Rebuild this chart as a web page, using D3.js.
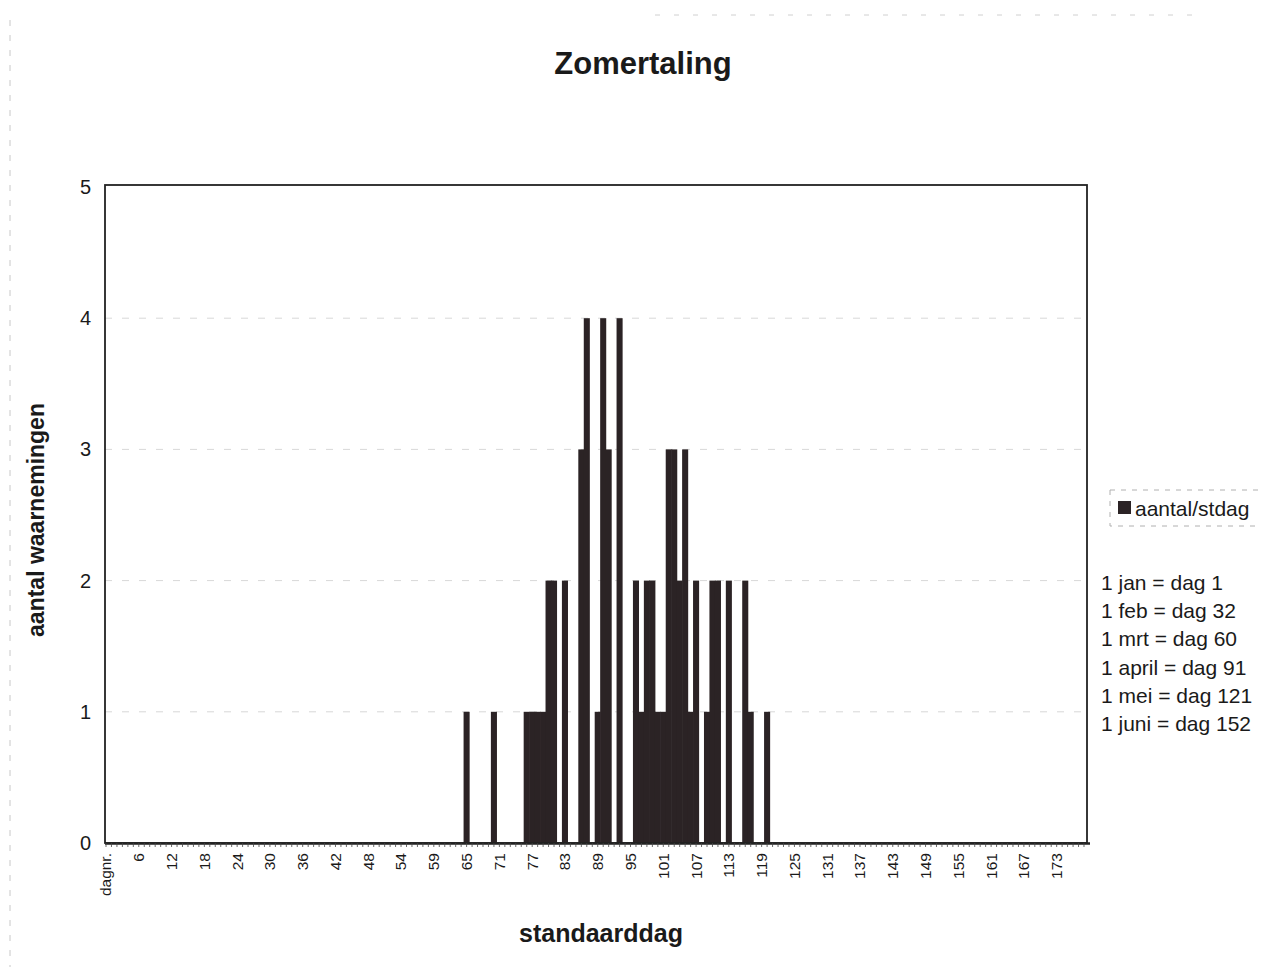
<!DOCTYPE html>
<html>
<head>
<meta charset="utf-8">
<script src="https://cdn.jsdelivr.net/npm/d3@7"></script>
<style>
    body { margin: 0; background: #fff; }
    text { font-family: "Liberation Sans", Arial, sans-serif; fill: #1a1a1a; }
</style>
</head>
<body>
<div id="chart"></div>
<script>
// categorieen op de x-as: "dagnr." gevolgd door de standaarddagen
const categorieen = ["dagnr."].concat(d3.range(1, 59), [""], d3.range(59, 179));

// waarnemingen per standaarddag (alleen dagen > 0)
const dagen   = [65, 70, 76, 77, 78, 79, 80, 81, 83, 86, 87, 89, 90, 91, 93, 96, 97, 98, 99, 100,
                 101, 102, 103, 104, 105, 106, 107, 109, 110, 111, 113, 116, 117, 120];
const aantal  = [1, 1, 1, 1, 1, 1, 2, 2, 2, 3, 4, 1, 4, 3, 4, 2, 1, 2, 2, 1,
                 1, 3, 3, 2, 3, 1, 2, 1, 2, 2, 2, 2, 1, 1];

const yTicks = [0, 1, 2, 3, 4, 5];

const maanden = ["1 jan = dag 1", "1 feb = dag 32", "1 mrt = dag 60",
                 "1 april = dag 91", "1 mei = dag 121", "1 juni = dag 152"];

const width = 1261, height = 967;
const plot = {left: 105, right: 1087, top: 185, bottom: 843};

let svg = d3.select("#chart").append("svg")
    .attr("width", width)
    .attr("height", height);

let x = d3.scaleBand()
    .domain(categorieen)
    .range([plot.left - 2, plot.right])
    .paddingInner(0)
    .paddingOuter(0.05);

let y = d3.scaleLinear()
    .domain([0, 5])
    .range([plot.bottom, plot.top + 2]);

// vage rand van het grafiekgebied (scan)
svg.append("line")
    .attr("x1", 10).attr("x2", 10).attr("y1", 20).attr("y2", height)
    .attr("stroke", "#c8c8c8").attr("stroke-dasharray", "6,9").attr("stroke-width", 1);
svg.append("line")
    .attr("x1", 655).attr("x2", 1195).attr("y1", 15).attr("y2", 15)
    .attr("stroke", "#d0d0d0").attr("stroke-dasharray", "5,14").attr("stroke-width", 1);

// rasterlijnen
svg.append("g")
    .selectAll("line")
    .data(yTicks.filter(d => d > 0 && d < 5))
    .enter().append("line")
    .attr("x1", plot.left).attr("x2", plot.right)
    .attr("y1", d => y(d)).attr("y2", d => y(d))
    .attr("stroke", "#d8d8d8")
    .attr("stroke-width", 1)
    .attr("stroke-dasharray", "7,10");

// staven (iets overlappend zodat aangrenzende staven een blok vormen)
let data = dagen.map((d, i) => ({dag: d, n: aantal[i]}));

svg.append("g")
    .selectAll("rect")
    .data(data)
    .enter().append("rect")
    .attr("x", d => x(d.dag) - 0.3)
    .attr("y", d => y(d.n))
    .attr("width", x.bandwidth() + 0.6)
    .attr("height", d => y(0) - y(d.n))
    .attr("fill", "#2b2325");

// kader
svg.append("rect")
    .attr("x", plot.left).attr("y", plot.top)
    .attr("width", plot.right - plot.left).attr("height", plot.bottom - plot.top)
    .attr("fill", "none")
    .attr("stroke", "#222")
    .attr("stroke-width", 1.8);

// x-as
let xAxis = d3.axisBottom(x)
    .tickSize(4)
    .tickFormat((d, i) => i % 6 == 0 ? d : "");

let gx = svg.append("g")
    .attr("transform", `translate(0,${plot.bottom})`)
    .call(xAxis);

gx.select(".domain")
    .attr("d", `M${plot.left},0.5H${plot.right + 3}`)
    .attr("stroke", "#222")
    .attr("stroke-width", 2.4);
gx.selectAll(".tick line").attr("stroke", "#444").attr("stroke-width", 0.8);
gx.selectAll(".tick text")
    .attr("transform", "rotate(-90)")
    .attr("x", -10)
    .attr("y", 0)
    .attr("dy", "0.35em")
    .attr("text-anchor", "end")
    .style("font-size", "15.5px")
    .style("font-family", "'Liberation Sans', Arial, sans-serif")
    .attr("fill", "#1a1a1a");

// y-as labels
svg.append("g")
    .selectAll("text")
    .data(yTicks)
    .enter().append("text")
    .attr("x", 91)
    .attr("y", d => y(d))
    .attr("dy", "0.35em")
    .attr("text-anchor", "end")
    .style("font-size", "20px")
    .text(d => d);

// titels
svg.append("text")
    .attr("x", 643).attr("y", 74)
    .attr("text-anchor", "middle")
    .style("font-size", "31px").style("font-weight", "bold")
    .text("Zomertaling");

svg.append("text")
    .attr("transform", "translate(44,520) rotate(-90)")
    .attr("text-anchor", "middle")
    .style("font-size", "23px").style("font-weight", "bold")
    .text("aantal waarnemingen");

svg.append("text")
    .attr("x", 601).attr("y", 942)
    .attr("text-anchor", "middle")
    .style("font-size", "25px").style("font-weight", "bold")
    .text("standaarddag");

// legenda
let legend = svg.append("g");
legend.append("rect")
    .attr("x", 1110).attr("y", 490)
    .attr("width", 170).attr("height", 36)
    .attr("fill", "none")
    .attr("stroke", "#b0b0b0")
    .attr("stroke-dasharray", "5,6");
legend.append("rect")
    .attr("x", 1118).attr("y", 501)
    .attr("width", 13).attr("height", 13)
    .attr("fill", "#2b2325");
legend.append("text")
    .attr("x", 1135).attr("y", 516)
    .style("font-size", "21px")
    .text("aantal/stdag");

// maand - dag
svg.append("g")
    .selectAll("text")
    .data(maanden)
    .enter().append("text")
    .attr("x", 1101)
    .attr("y", (d, i) => 590 + i * 28.2)
    .style("font-size", "21px")
    .text(d => d);
</script>
</body>
</html>
